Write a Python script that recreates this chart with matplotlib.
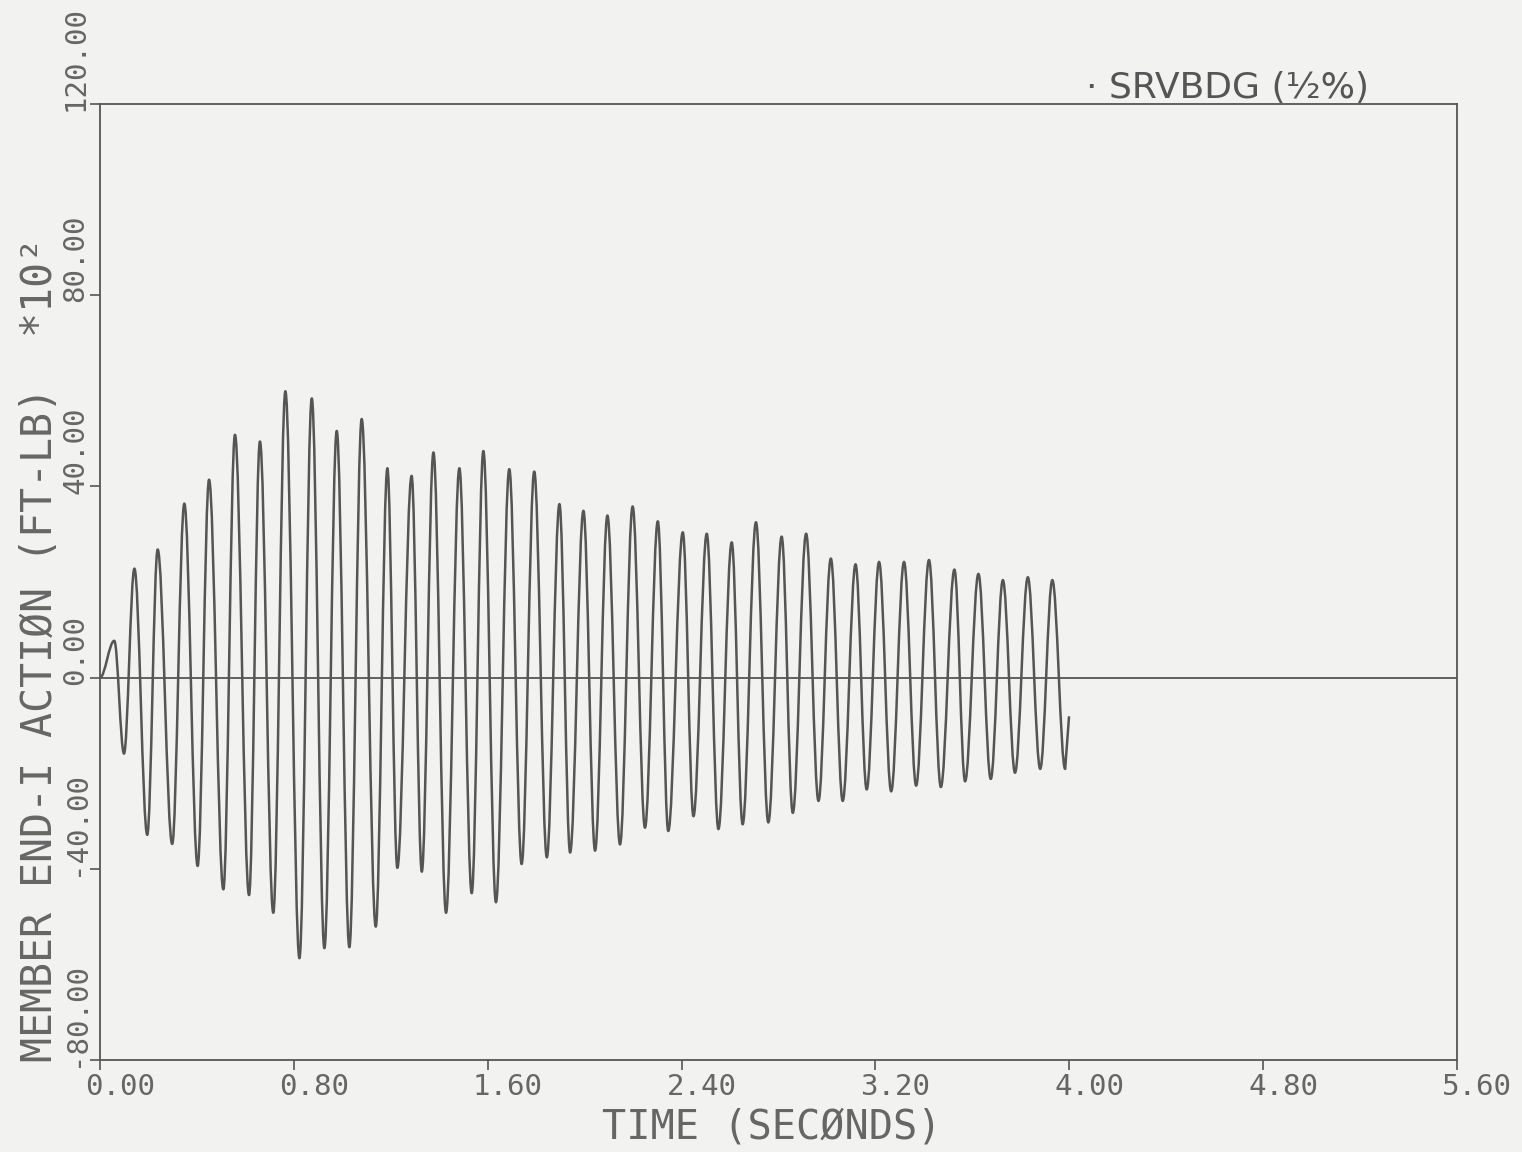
import matplotlib
matplotlib.use("Agg")
import matplotlib.pyplot as plt
from matplotlib.path import Path
from matplotlib.patches import PathPatch
from matplotlib.transforms import ScaledTranslation

# extrema of the member end-I action trace (time in s, value in ft-lb * 10^2)
t_ext = [0.000, 0.059, 0.099, 0.142, 0.195, 0.238, 0.298, 0.348, 0.403, 0.450,
         0.509, 0.557, 0.615, 0.660, 0.715, 0.765, 0.823, 0.874, 0.926, 0.977,
         1.029, 1.080, 1.138, 1.186, 1.227, 1.286, 1.328, 1.376, 1.428, 1.483,
         1.534, 1.582, 1.634, 1.689, 1.740, 1.792, 1.844, 1.896, 1.940, 1.995,
         2.043, 2.094, 2.146, 2.198, 2.249, 2.302, 2.345, 2.405, 2.449, 2.504,
         2.552, 2.607, 2.652, 2.707, 2.758, 2.813, 2.859, 2.914, 2.965, 3.016,
         3.065, 3.118, 3.164, 3.215, 3.265, 3.318, 3.368, 3.421, 3.470, 3.526,
         3.570, 3.625, 3.676, 3.726, 3.776, 3.829, 3.880, 3.930, 3.983, 3.999]
m_ext = [0.0, 7.7, -15.9, 22.8, -32.9, 26.8, -34.8, 36.4, -39.4, 41.4,
         -44.3, 50.8, -45.5, 49.4, -49.2, 59.9, -58.7, 58.4, -56.6, 51.6,
         -56.4, 54.1, -52.1, 43.8, -39.8, 42.2, -40.6, 47.1, -49.2, 43.8,
         -45.1, 47.4, -47.0, 43.6, -39.0, 43.1, -37.6, 36.3, -36.6, 34.9,
         -36.2, 33.9, -34.9, 35.8, -31.4, 32.7, -32.1, 30.4, -29.0, 30.1,
         -31.7, 28.3, -30.7, 32.5, -30.3, 29.5, -28.3, 30.1, -25.8, 24.9,
         -25.8, 23.7, -23.4, 24.2, -23.8, 24.2, -22.6, 24.6, -22.9, 22.6,
         -21.7, 21.7, -21.2, 20.4, -19.9, 21.0, -19.1, 20.4, -19.1, -8.1]

xticks = [0.0, 0.8, 1.6, 2.4, 3.2, 4.0, 4.8, 5.6]
xticklabels = ["0.00", "0.80", "1.60", "2.40", "3.20", "4.00", "4.80", "5.60"]
yticks = [-80, -40, 0, 40, 80, 120]
yticklabels = ["-80.00", "-40.00", "0.00", "40.00", "80.00", "120.00"]

bg = "#f2f2f0"
ink = "#555555"
txt = "#666666"
mono = "DejaVu Sans Mono"

fig = plt.figure(figsize=(15.22, 11.52), dpi=100, facecolor=bg)
ax = fig.add_axes([100 / 1522, 1 - 1060 / 1152, 1357 / 1522, 956 / 1152])
ax.set_facecolor(bg)

ax.axhline(0, color=ink, lw=1.3, zorder=1)

# trace: smooth swings between the read extrema (flat tangent at each peak)
verts = [(t_ext[0], m_ext[0])]
codes = [Path.MOVETO]
for i in range(1, len(t_ext)):
    t0, m0, t1, m1 = t_ext[i - 1], m_ext[i - 1], t_ext[i], m_ext[i]
    if i == len(t_ext) - 1:
        verts.append((t1, m1))
        codes.append(Path.LINETO)
        continue
    d = t1 - t0
    verts += [(t0 + 0.36 * d, m0), (t1 - 0.36 * d, m1), (t1, m1)]
    codes += [Path.CURVE4] * 3
ax.add_patch(PathPatch(Path(verts, codes), fill=False, edgecolor=ink,
                       lw=1.8, joinstyle="round", zorder=2))

ax.set_xlim(0, 5.6)
ax.set_ylim(-80, 120)
for s in ax.spines.values():
    s.set_color(ink)
    s.set_linewidth(1.3)

ax.set_xticks(xticks)
ax.set_yticks(yticks)
ax.tick_params(direction="out", length=7, width=1.2, color=ink,
               labelbottom=False, labelleft=False)

# tick labels, placed like the plotter did (shifted right / rotated)
dx = ScaledTranslation(20 / 100, 0, fig.dpi_scale_trans)
for xv, lab in zip(xticks, xticklabels):
    ax.text(xv, -0.014, lab, transform=ax.get_xaxis_transform() + dx,
            ha="center", va="top", fontsize=21, family=mono, color=txt)

for yv, lab in zip(yticks, yticklabels):
    ax.text(-0.018, yv - 1.5, lab, transform=ax.get_yaxis_transform(),
            rotation=90, rotation_mode="anchor", ha="left", va="center",
            fontsize=21, family=mono, color=txt)

fig.text(40 / 1522, 1 - 1062 / 1152, "MEMBER END-I ACTIØN (FT-LB)  *10²",
         rotation=90, rotation_mode="anchor", ha="left", va="center",
         fontsize=30, family=mono, color=txt)
fig.text(772 / 1522, 1 - 1128 / 1152, "TIME (SECØNDS)",
         ha="center", va="center", fontsize=29, family=mono, color=txt)

fig.text(1086 / 1522, 1 - 98 / 1152, "· SRVBDG (½%)", ha="left",
         va="baseline", fontsize=26, color="#555555")

fig.savefig("out.png", dpi=100, facecolor=bg)
